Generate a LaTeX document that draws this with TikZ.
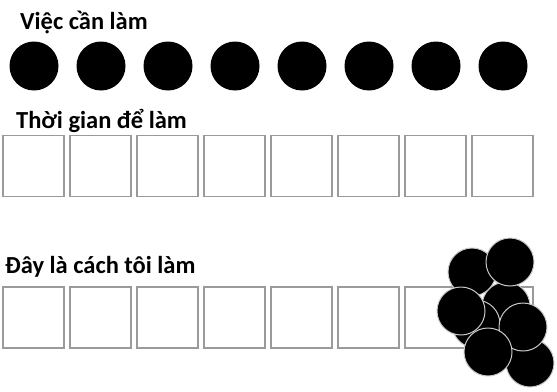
\documentclass[tikz,border=0pt]{standalone}
\usepackage{fontspec}
\setmainfont{Carlito}
\usetikzlibrary{positioning}
\definecolor{colBorde}{HTML}{9A9A9A}
\definecolor{colContorno}{HTML}{C8C8C8}

\begin{document}
\begin{tikzpicture}[
  x=1pt, y=-1pt,
  titulo/.style={anchor=base west, inner sep=0pt,
    font=\fontsize{24.5}{29}\selectfont\bfseries},
  punto/.style={circle, fill=black, minimum size=49pt, inner sep=0pt},
  casilla/.style={rectangle, draw=colBorde, line width=1.3pt,
    minimum size=61pt, inner sep=0pt},
  ficha/.style={circle, fill=black, draw=colContorno, line width=1pt,
    minimum size=48pt, inner sep=0pt}
]
  \useasboundingbox (0,0) rectangle (557,391);

  % Viec can lam
  \node[titulo] (tviec) at (20,29) {Việc cần làm};
  \foreach \i in {1,...,8}
    \node[punto] (p\i) at ({34+67*(\i-1)},66) {};

  % Thoi gian de lam
  \node[titulo] (tthoi) at (16,128) {Thời gian để làm};
  \foreach \i in {1,...,8}
    \node[casilla] (a\i) at ({33.5+67*(\i-1)},166) {};

  % Day la cach toi lam
  \node[titulo] (tcach) at (5,273) {Đây là cách tôi làm};
  \foreach \i in {1,...,8}
    \node[casilla] (b\i) at ({33.5+67*(\i-1)},317.5) {};

  % fichas amontonadas (de atras hacia adelante)
  \foreach \n/\x/\y in {f3/506/306, f5/476/324, f8/530/363, f1/472/272,
                        f2/510/262, f4/461/311, f6/523/327, f7/488/352}
    \node[ficha] (\n) at (\x,\y) {};

\end{tikzpicture}
\end{document}
